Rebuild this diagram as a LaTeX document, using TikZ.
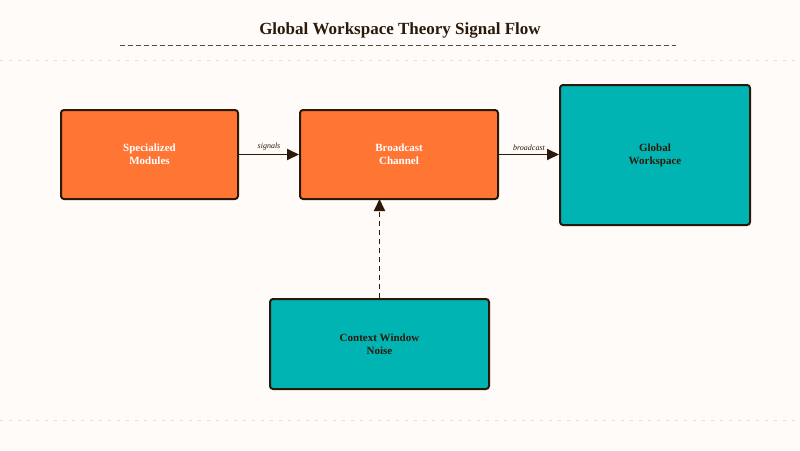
\documentclass[tikz,border=0pt]{standalone}
\usepackage{fontspec}
\setmainfont{Liberation Serif}
\usetikzlibrary{arrows.meta}
\definecolor{bg}{HTML}{FFFBF8}
\definecolor{orng}{HTML}{FE7534}
\definecolor{teal}{HTML}{00B4B4}
\definecolor{ink}{HTML}{2B1A0A}
\begin{document}
\begin{tikzpicture}[x=1pt,y=-1pt,
  box/.style={draw=ink,line width=2pt,rounded corners=3pt,align=center,font=\bfseries\fontsize{11}{13}\selectfont},
  org/.style={box,fill=orng,text=white},
  tl/.style={box,fill=teal,text=ink},
  arr/.style={-{Triangle[length=12pt,width=11pt]},ink,line width=1.8pt},
  lab/.style={font=\itshape\fontsize{8}{9}\selectfont,text=ink}]
\fill[bg] (0,0) rectangle (800,450);
\useasboundingbox (0,0) rectangle (800,450);
\draw[black!12,line width=1pt,dash pattern=on 3pt off 6pt] (0,60) -- (800,60);
\draw[black!12,line width=1pt,dash pattern=on 3pt off 6pt] (0,420) -- (800,420);
\node[font=\bfseries\fontsize{17}{20}\selectfont,text=ink] (title) at (400,30) {Global Workspace Theory Signal Flow};
\draw[ink!80,line width=1pt,dash pattern=on 5pt off 3pt] (120,45) -- (676,45);
\node[org,minimum width=177pt,minimum height=89pt] (sm) at (149.5,154.5) {Specialized\\Modules};
\node[org,minimum width=198pt,minimum height=89pt] (bc) at (399,154.5) {Broadcast\\Channel};
\node[tl,minimum width=190pt,minimum height=140pt] (gw) at (655,155) {Global\\Workspace};
\node[tl,minimum width=219pt,minimum height=90pt] (cw) at (379.5,344) {Context Window\\Noise};
\draw[arr] (sm) -- node[lab,above=0pt] (l1) {signals} (bc);
\draw[arr] (bc.east) -- node[lab,above=0pt] (l2) {broadcast} (bc.east -| gw.west);
\draw[arr,dash pattern=on 5pt off 4pt] (cw.north -| 379.5,0) -- (379.5,199);
\end{tikzpicture}
\end{document}
